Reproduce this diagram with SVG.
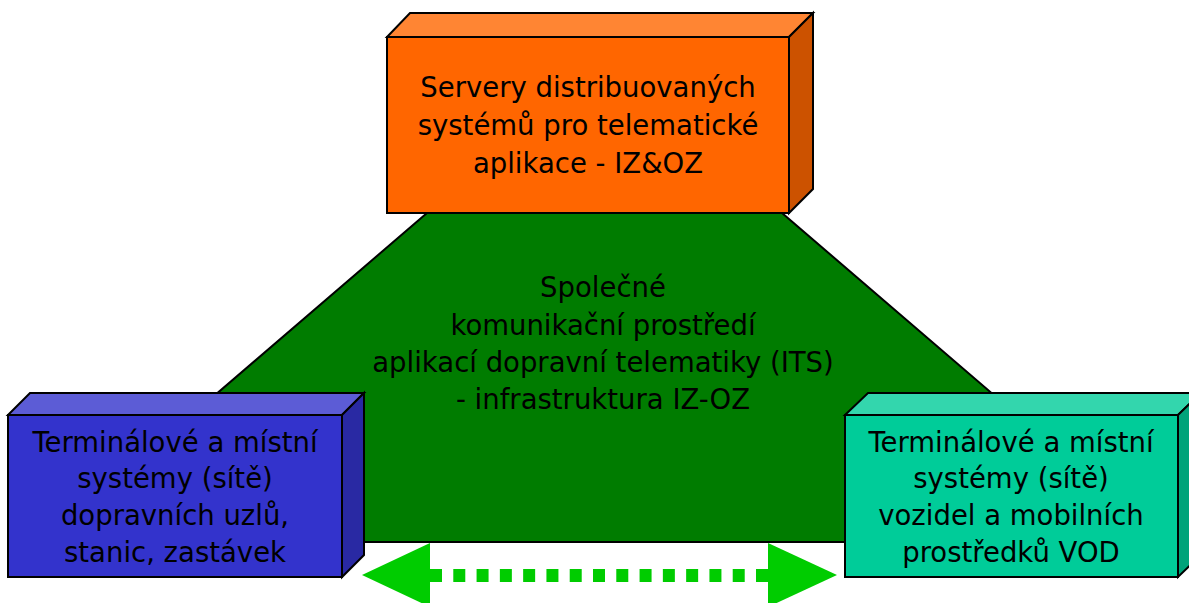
<svg xmlns="http://www.w3.org/2000/svg" width="1189" height="603" viewBox="0 0 1189 603">
  <style>
    .edge { stroke: #000; stroke-width: 2; stroke-linejoin: miter; }
    .label { font-family: "DejaVu Sans", "Noto Sans", sans-serif; font-size: 27.5px; fill: #000; text-anchor: middle; }
  </style>
  <rect width="1189" height="603" fill="#fff"/>

  <!-- shared communication environment (trapezoid) -->
  <g id="node-its">
    <polygon class="edge" fill="#007c00" points="427,213 782,213 1165,542 44,542"/>
    <text class="label" x="603" y="297">Společné</text>
    <text class="label" x="603" y="335">komunikační prostředí</text>
    <text class="label" x="603" y="372">aplikací dopravní telematiky (ITS)</text>
    <text class="label" x="603" y="409">- infrastruktura IZ-OZ</text>
  </g>

  <!-- servers block -->
  <g id="node-servers">
    <polygon class="edge" fill="#ff8533" points="387,37 410,13 813,13 789,37"/>
    <polygon class="edge" fill="#cc5200" points="789,37 813,13 813,189 789,213"/>
    <rect class="edge" fill="#ff6600" x="387" y="37" width="402" height="176"/>
    <text class="label" x="588" y="97">Servery distribuovaných</text>
    <text class="label" x="588" y="135">systémů pro telematické</text>
    <text class="label" x="588" y="173">aplikace - IZ&amp;OZ</text>
  </g>

  <!-- terminal systems of transport nodes -->
  <g id="node-stations">
    <polygon class="edge" fill="#5c5cd6" points="8,415 30,393 364,393 342,415"/>
    <polygon class="edge" fill="#2929a3" points="342,415 364,393 364,555 342,577"/>
    <rect class="edge" fill="#3333cc" x="8" y="415" width="334" height="162"/>
    <text class="label" x="175" y="452">Terminálové a místní</text>
    <text class="label" x="175" y="488">systémy (sítě)</text>
    <text class="label" x="175" y="525">dopravních uzlů,</text>
    <text class="label" x="175" y="562">stanic, zastávek</text>
  </g>

  <!-- terminal systems of vehicles -->
  <g id="node-vehicles">
    <polygon class="edge" fill="#33d6ad" points="845,415 868,393 1201,393 1178,415"/>
    <polygon class="edge" fill="#00a37a" points="1178,415 1201,393 1201,555 1178,577"/>
    <rect class="edge" fill="#00cc99" x="845" y="415" width="333" height="162"/>
    <text class="label" x="1011" y="452">Terminálové a místní</text>
    <text class="label" x="1011" y="488">systémy (sítě)</text>
    <text class="label" x="1011" y="525">vozidel a mobilních</text>
    <text class="label" x="1011" y="562">prostředků VOD</text>
  </g>

  <!-- connectors -->
  <g id="connectors">
    <g id="link-stations-vehicles" fill="#00cc00">
      <line x1="430" y1="575.5" x2="768" y2="575.5" stroke="#00cc00" stroke-width="13" stroke-dasharray="12 11.286"/>
      <polygon points="362,575 430,543 430,607"/>
      <polygon points="837,575 768,543 768,607"/>
    </g>
  </g>
</svg>
